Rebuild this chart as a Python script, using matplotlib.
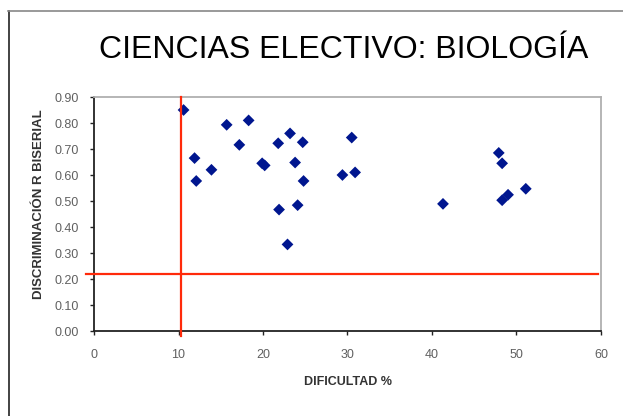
import matplotlib
matplotlib.use("Agg")
import matplotlib.pyplot as plt
from matplotlib.lines import Line2D

# dificultad (%) y discriminacion (r biserial) de cada item
dificultad = [10.6, 11.9, 12.1, 13.9, 15.7, 17.2, 18.3, 19.9, 20.2, 21.8,
              21.9, 22.9, 23.2, 23.8, 24.1, 24.7, 24.8, 29.4, 30.5, 30.9,
              41.3, 47.9, 48.3, 48.3, 49.0, 51.1]
discriminacion = [0.85, 0.665, 0.577, 0.62, 0.793, 0.716, 0.81, 0.645, 0.637, 0.722,
                  0.467, 0.333, 0.76, 0.648, 0.484, 0.726, 0.577, 0.60, 0.744, 0.61,
                  0.489, 0.685, 0.645, 0.503, 0.524, 0.547]
corte_x = 10.3
corte_y = 0.22

xticks = [0, 10, 20, 30, 40, 50, 60]
yticks = [0.0, 0.1, 0.2, 0.3, 0.4, 0.5, 0.6, 0.7, 0.8, 0.9]

plt.rcParams['font.family'] = ['Liberation Sans', 'DejaVu Sans']

fig = plt.figure(figsize=(6.23, 4.16), dpi=100)
ax = fig.add_axes([94/623, 85/416, 507/623, 234/416])

ax.scatter(dificultad, discriminacion, marker='D', s=36, color='#00168f',
           edgecolors='none', zorder=3)

# lineas de corte
ax.plot([corte_x, corte_x], [0.9, -0.02], color='#ff2a0a', lw=1.6,
        clip_on=False, zorder=4)
ax.plot([-0.9, 59.6], [corte_y, corte_y], color='#ff2a0a', lw=1.6,
        clip_on=False, zorder=4)

ax.set_xlim(0, 60)
ax.set_ylim(0, 0.9)
ax.set_xticks(xticks)
ax.set_yticks(yticks)
ax.set_xticklabels([str(t) for t in xticks])
ax.set_yticklabels(['%.2f' % t for t in yticks])
ax.tick_params(axis='both', direction='out', length=3, width=1, labelsize=9,
               labelcolor='#606060', color='#222222', pad=10)
ax.tick_params(axis='y', pad=8)

for s in ['left', 'bottom']:
    ax.spines[s].set_color('#222222')
    ax.spines[s].set_linewidth(1.3)
for s in ['top', 'right']:
    ax.spines[s].set_color('#b0b0b0')
    ax.spines[s].set_linewidth(1.3)

ax.set_xlabel('DIFICULTAD %', fontsize=9, fontweight='bold', color='#333333',
              labelpad=11)
ax.set_ylabel('DISCRIMINACIÓN R BISERIAL', fontsize=9.5, fontweight='bold',
              color='#333333')
ax.yaxis.set_label_coords(-49/507, 127/234)

fig.text(344/623, 1 - 50/416, 'CIENCIAS ELECTIVO: BIOLOGÍA', fontsize=23,
         ha='center', va='center', color='black')

# marco exterior
fig.add_artist(Line2D([8.5/623, 8.5/623], [0, 1 - 11/416], color='#222222', lw=1.2))
fig.add_artist(Line2D([8/623, 1], [1 - 11/416, 1 - 11/416], color='#888888', lw=1.2))

fig.savefig('out.png', dpi=100)
